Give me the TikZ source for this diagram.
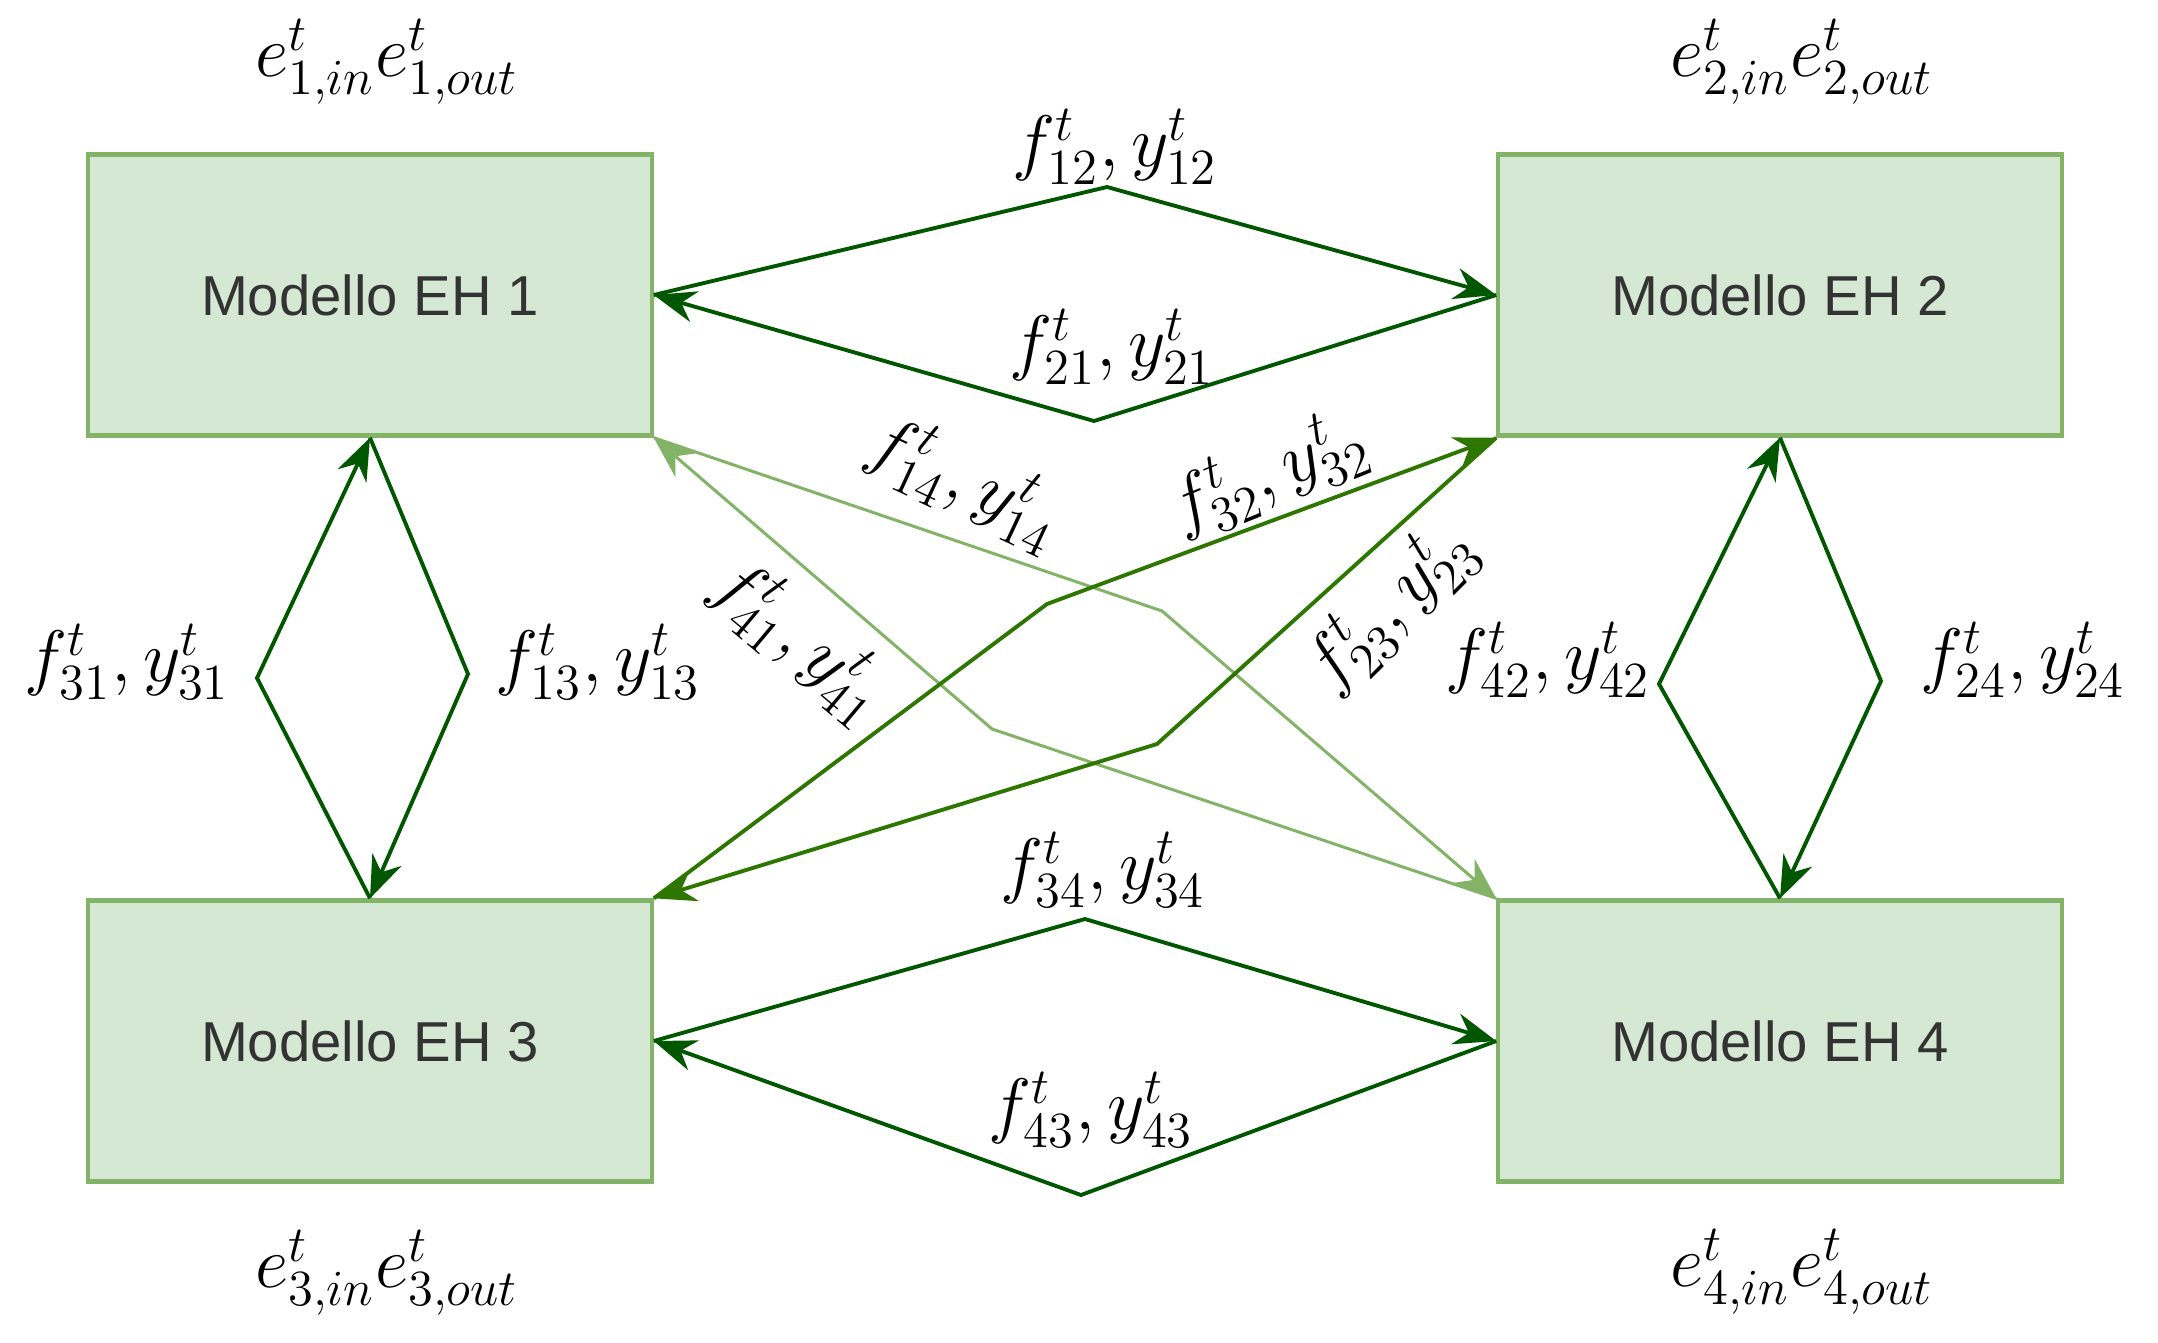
\documentclass[tikz,border=0pt]{standalone}
\usepackage{amsmath}
\usepackage{amssymb}
\usepackage{fontspec}
\setsansfont{Liberation Sans}
\usetikzlibrary{arrows.meta}
\DeclareMathSizes{20}{20}{15}{11}
\definecolor{ehfill}{HTML}{D5E8D4}
\definecolor{ehline}{HTML}{82B366}
\definecolor{flowdark}{HTML}{005700}
\definecolor{flowmid}{HTML}{2D7600}
\tikzset{
  ehbox/.style={draw=ehline,fill=ehfill,line width=1.2pt,minimum width=5.63cm,minimum height=2.81cm,font=\sffamily\fontsize{16}{19}\selectfont,text=black!80},
  lbl/.style={font=\fontsize{20}{24}\selectfont},
  tip/.style={-{Stealth[length=12pt,width=9pt]}},
  darkflow/.style={tip,draw=flowdark,line width=1.1pt},
  midflow/.style={tip,draw=flowmid,line width=1.1pt},
  lightflow/.style={tip,draw=ehline,line width=0.85pt}
}
\begin{document}
\begin{tikzpicture}[x=0.01cm,y=-0.01cm]
\tikzstyle{every node}+=[inner sep=0pt]
\useasboundingbox (0,0) rectangle (2158,1342);
\node [ehbox] (eh1) at (370,295) {Modello EH 1};
\node [ehbox] (eh2) at (1780,295) {Modello EH 2};
\node [ehbox] (eh3) at (370,1041) {Modello EH 3};
\node [ehbox] (eh4) at (1780,1041) {Modello EH 4};
\coordinate (c12) at (1107,187);
\coordinate (c21) at (1094,421);
\coordinate (c34) at (1085,919);
\coordinate (c43) at (1081,1195);
\coordinate (c31) at (257,678);
\coordinate (c13) at (468,674);
\coordinate (c42) at (1659,684);
\coordinate (c24) at (1881,681);
\coordinate (c14) at (1162,611);
\coordinate (c41) at (992,729);
\coordinate (c32) at (1047,604);
\coordinate (c23) at (1157,744);
\draw [darkflow] (eh1.east) -- (c12) -- (eh2.west);
\draw [darkflow] (eh2.west) -- (c21) -- (eh1.east);
\draw [darkflow] (eh3.east) -- (c34) -- (eh4.west);
\draw [darkflow] (eh4.west) -- (c43) -- (eh3.east);
\draw [darkflow] (eh3.north) -- (c31) -- (eh1.south);
\draw [darkflow] (eh1.south) -- (c13) -- (eh3.north);
\draw [darkflow] (eh4.north) -- (c42) -- (eh2.south);
\draw [darkflow] (eh2.south) -- (c24) -- (eh4.north);
\draw [lightflow] (eh1.south east) -- (c14) -- (eh4.north west);
\draw [lightflow] (eh4.north west) -- (c41) -- (eh1.south east);
\draw [midflow] (eh3.north east) -- (c32) -- (eh2.south west);
\draw [midflow] (eh2.south west) -- (c23) -- (eh3.north east);
\node [lbl] (e1) at (387,62) {$e^t_{1,in}e^t_{1,out}$};
\node [lbl] (e2) at (1802,62) {$e^t_{2,in}e^t_{2,out}$};
\node [lbl] (e3) at (387,1273) {$e^t_{3,in}e^t_{3,out}$};
\node [lbl] (e4) at (1802,1272) {$e^t_{4,in}e^t_{4,out}$};
\node [lbl] (l12) at (1115,147) {$f^t_{12}, y^t_{12}$};
\node [lbl] (l21) at (1112,347) {$f^t_{21}, y^t_{21}$};
\node [lbl] (l34) at (1103,870) {$f^t_{34}, y^t_{34}$};
\node [lbl] (l43) at (1091,1110) {$f^t_{43}, y^t_{43}$};
\node [lbl] (l31) at (127,662) {$f^t_{31}, y^t_{31}$};
\node [lbl] (l13) at (598,662) {$f^t_{13}, y^t_{13}$};
\node [lbl] (l42) at (1548,660) {$f^t_{42}, y^t_{42}$};
\node [lbl] (l24) at (2023,660) {$f^t_{24}, y^t_{24}$};
\node [lbl,rotate=-25] (l14) at (965,482) {$f^t_{14}, y^t_{14}$};
\node [lbl,rotate=-40] (l41) at (800,640) {$f^t_{41}, y^t_{41}$};
\node [lbl,rotate=22] (l32) at (1268,474) {$f^t_{32}, y^t_{32}$};
\node [lbl,rotate=45] (l23) at (1390,607) {$f^t_{23}, y^t_{23}$};
\end{tikzpicture}
\end{document}
